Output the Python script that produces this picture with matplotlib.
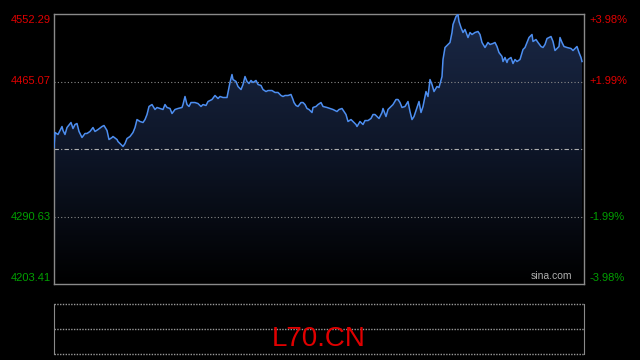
import numpy as np
import matplotlib
matplotlib.use("Agg")
import matplotlib.pyplot as plt
from matplotlib.colors import LinearSegmentedColormap

plt.rcParams["font.family"] = ["Liberation Sans", "DejaVu Sans"]

# minute offsets and prices
t = [0, 1, 4, 8, 9, 11, 13, 17, 19, 21, 23, 25, 28, 31, 33, 36, 39, 41, 44, 48,
     50, 53, 55, 58, 59, 63, 64, 67, 69, 71, 73, 76, 79, 81, 83, 86, 89, 91, 93, 95,
     98, 101, 103, 106, 109, 111, 113, 116, 118, 121, 124, 128, 129, 131, 133, 135, 137, 141, 144, 147,
     149, 152, 154, 158, 161, 164, 166, 169, 173, 174, 176, 178, 179, 182, 184, 187, 189, 191, 193, 195,
     197, 199, 202, 204, 207, 209, 212, 214, 218, 221, 224, 227, 229, 231, 234, 237, 239, 240, 242, 244,
     247, 249, 251, 253, 255, 258, 259, 262, 264, 267, 269, 273, 276, 279, 283, 285, 288, 290, 292, 294,
     297, 299, 302, 303, 306, 309, 311, 314, 317, 319, 321, 323, 325, 328, 329, 332, 334, 337, 339, 342,
     344, 346, 348, 351, 354, 356, 358, 360, 363, 365, 367, 369, 372, 374, 376, 378, 380, 383, 385, 388,
     389, 391, 394, 396, 398, 399, 402, 404, 405, 407, 409, 411, 414, 416, 418, 421, 424, 426, 428, 431,
     434, 436, 439, 441, 443, 445, 448, 449, 451, 453, 454, 457, 459, 461, 463, 466, 469, 471, 473, 475,
     478, 479, 482, 484, 487, 489, 491, 493, 495, 497, 499, 501, 503, 505, 506, 508, 510, 513, 517, 519,
     523, 525, 527, 528]
price = [4379.8, 4399.2, 4396.6, 4406.9, 4401.8, 4396.6, 4405.6, 4412.1, 4404.3, 4409.5,
         4410.8, 4400.5, 4392.7, 4397.9, 4397.9, 4400.5, 4405.6, 4400.5, 4403.0, 4406.9,
         4408.2, 4401.8, 4390.1, 4392.7, 4394.0, 4390.1, 4387.5, 4383.7, 4381.1, 4384.9,
         4391.4, 4394.0, 4399.2, 4405.6, 4415.9, 4413.4, 4412.1, 4415.9, 4422.4, 4432.8,
         4435.3, 4428.9, 4431.5, 4430.2, 4428.9, 4435.3, 4431.5, 4430.2, 4423.7, 4428.9,
         4430.2, 4431.5, 4435.3, 4445.7, 4435.3, 4432.8, 4437.9, 4437.9, 4436.6, 4432.8,
         4435.3, 4434.1, 4439.2, 4441.8, 4447.0, 4443.1, 4445.7, 4444.4, 4444.4, 4450.9,
         4463.8, 4474.1, 4467.6, 4465.1, 4458.6, 4454.7, 4461.2, 4471.5, 4465.1, 4462.5,
         4466.4, 4463.8, 4466.4, 4461.2, 4459.9, 4454.7, 4452.1, 4453.4, 4453.4, 4450.9,
         4450.9, 4447.0, 4445.7, 4447.0, 4447.0, 4448.3, 4441.8, 4437.9, 4434.1, 4432.8,
         4437.9, 4437.9, 4435.3, 4430.2, 4428.9, 4425.0, 4431.5, 4432.8, 4435.3, 4437.9,
         4432.8, 4431.5, 4430.2, 4428.9, 4426.3, 4428.9, 4430.2, 4426.3, 4422.4, 4413.4,
         4415.9, 4413.4, 4409.5, 4406.9, 4413.4, 4409.5, 4414.6, 4414.6, 4417.3, 4422.4,
         4422.4, 4419.8, 4417.3, 4425.0, 4430.2, 4419.8, 4428.9, 4432.8, 4435.3, 4441.8,
         4441.8, 4437.9, 4431.5, 4432.8, 4439.2, 4426.3, 4415.9, 4419.8, 4431.5, 4439.2,
         4425.0, 4432.8, 4452.1, 4445.7, 4467.6, 4461.2, 4452.1, 4458.6, 4457.3, 4471.5,
         4493.5, 4509.0, 4512.9, 4515.5, 4528.4, 4538.7, 4549.1, 4551.6, 4542.6, 4534.8,
         4528.4, 4532.3, 4521.9, 4528.4, 4525.8, 4528.4, 4529.7, 4525.8, 4515.5, 4509.0,
         4515.5, 4512.9, 4514.2, 4515.5, 4510.3, 4502.5, 4497.4, 4490.9, 4496.1, 4489.6,
         4493.5, 4496.1, 4488.3, 4493.5, 4490.9, 4493.5, 4506.4, 4509.0, 4515.5, 4521.9,
         4525.8, 4516.8, 4519.3, 4515.5, 4510.3, 4509.0, 4512.9, 4520.6, 4521.9, 4523.2,
         4516.8, 4505.1, 4507.7, 4510.3, 4521.9, 4515.5, 4510.3, 4509.0, 4507.7, 4505.1,
         4510.3, 4502.5, 4496.1, 4490.9]

prev_close = 4377.85
left_ticks = [4552.29, 4465.07, 4290.63, 4203.41]
right_ticks = ["+3.98%", "+1.99%", "-1.99%", "-3.98%"]
tick_colors = ["#e00000", "#e00000", "#00a000", "#00a000"]
symbol = "L70.CN"

W, H = 640, 360
fig = plt.figure(figsize=(6.4, 3.6), dpi=100, facecolor="black")
ax = fig.add_axes([54 / W, 76 / H, 530 / W, 270 / H], facecolor="black")
ymin, ymax = left_ticks[-1], left_ticks[0]
ax.set_xlim(0, 530)
ax.set_ylim(ymin, ymax)

# gradient fill under the line
cmap = LinearSegmentedColormap.from_list("fill", ["#000000", "#0e1628", "#1a2846"])
grad = np.linspace(0, 1, 256).reshape(-1, 1)
img = ax.imshow(grad, cmap=cmap, aspect="auto", origin="lower",
                extent=[0, 530, ymin, ymax], zorder=1)
poly = ax.fill_between(t, price, ymin, color="none", lw=0)
img.set_clip_path(poly.get_paths()[0], transform=ax.transData)

ax.plot(t, price, color="#4d8ef0", lw=1.1, zorder=3)

for v in left_ticks[1:3]:
    ax.axhline(v, color="#8a8a8a", lw=0.8, ls=(0, (1, 2)), zorder=2)
ax.axhline(prev_close, color="#b0b0b0", lw=0.8, ls=(0, (4, 2, 1, 2)), zorder=2)

for s in ax.spines.values():
    s.set_color("#8a8a8a")
    s.set_linewidth(1)
ax.set_xticks([])
ax.set_yticks([])

ytr = ax.get_yaxis_transform()
offs = [-6, 0, 0, 6]
for v, r, c, o in zip(left_ticks, right_ticks, tick_colors, offs):
    ypos = v + o * (ymax - ymin) / 270
    ax.text(-0.006, ypos, f"{v:.2f}", transform=ytr, ha="right", va="center",
            color=c, fontsize=8)
    ax.text(1.011, ypos, r, transform=ytr, ha="left", va="center",
            color=c, fontsize=8)

ax.text(0.978, 0.012, "sina.com", transform=ax.transAxes, ha="right", va="bottom",
        color="#b0b0b0", fontsize=7.5)

# lower panel
bx = fig.add_axes([54 / W, 6 / H, 530 / W, 50 / H], facecolor="black")
bx.set_xlim(0, 1)
bx.set_ylim(0, 2)
bx.set_xticks([])
bx.set_yticks([])
for k in ["top", "bottom"]:
    bx.spines[k].set_visible(False)
for k in ["left", "right"]:
    bx.spines[k].set_color("#8a8a8a")
for v in [0, 1, 2]:
    bx.axhline(v, color="#9a9a9a", lw=1, ls=(0, (1, 1)), clip_on=False)
bx.text(0.5, 0.29, symbol, transform=bx.transAxes, ha="center", va="center",
        color="#e00000", fontsize=20)

fig.savefig("out.png", dpi=100, facecolor="black")
